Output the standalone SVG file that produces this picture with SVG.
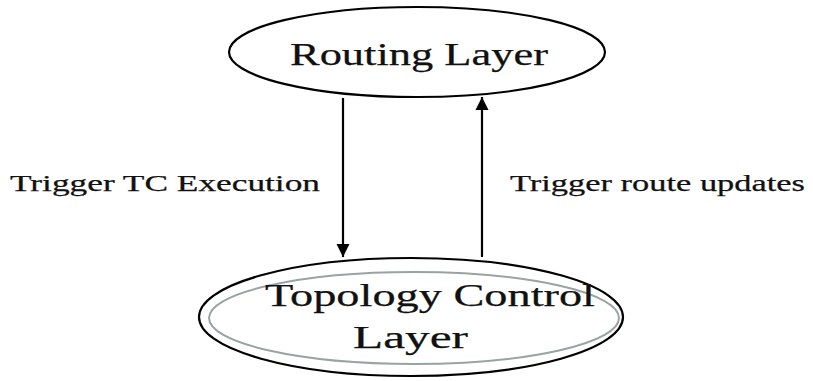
<svg xmlns="http://www.w3.org/2000/svg" width="813" height="381" viewBox="0 0 813 381">
<style>
text{font-family:"Liberation Serif","Times New Roman",serif;fill:#111;stroke:#111;stroke-width:0.25}
.node{fill:#fff;stroke:#000;stroke-width:2.2}
.inner{fill:none;stroke:#9aa3a3;stroke-width:2}
.lbl{font-size:24px}
.big{font-size:31px}
.conn{stroke:#000;stroke-width:2.2;fill:none}
</style>
<defs>
<marker id="ah" viewBox="0 0 10 10" refX="10" refY="5" markerWidth="6" markerHeight="6" orient="auto" markerUnits="strokeWidth"><path d="M0,0L10,5L0,10z" fill="#000"/></marker>
</defs>
<rect width="813" height="381" fill="#fff"/>
<g id="routing">
<ellipse class="node" cx="417" cy="52" rx="188" ry="45"/>
<text class="big" x="290" y="65" textLength="258" lengthAdjust="spacingAndGlyphs">Routing Layer</text>
</g>
<g id="topology">
<ellipse class="node" cx="411" cy="317" rx="212" ry="59"/>
<ellipse class="inner" cx="414" cy="318" rx="205" ry="46"/>
<text class="big" x="265" y="306" textLength="330" lengthAdjust="spacingAndGlyphs">Topology Control</text>
<text class="big" x="353" y="348" textLength="115" lengthAdjust="spacingAndGlyphs">Layer</text>
</g>
<g id="connectors">
<line class="conn" x1="343" y1="98" x2="343" y2="257" marker-end="url(#ah)"/>
<line class="conn" x1="482" y1="257" x2="482" y2="97" marker-end="url(#ah)"/>
<text class="lbl" x="10" y="191" textLength="310" lengthAdjust="spacingAndGlyphs">Trigger TC Execution</text>
<text class="lbl" x="510" y="191" textLength="295" lengthAdjust="spacingAndGlyphs">Trigger route updates</text>
</g>
</svg>
